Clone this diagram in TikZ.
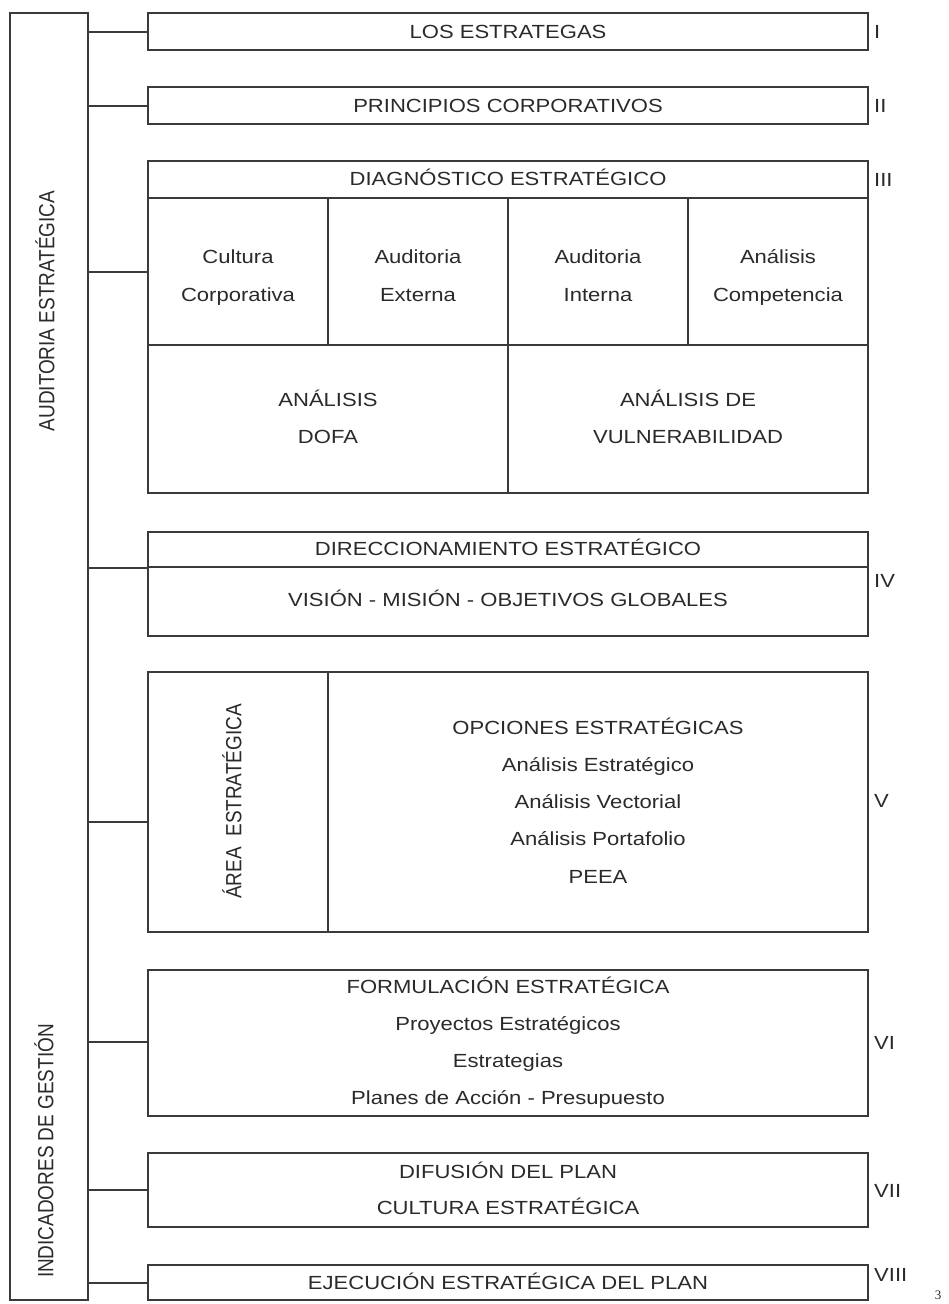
\documentclass[tikz,border=0pt]{standalone}
\usepackage{fontspec}
\setmainfont{Liberation Sans}
% slightly widened sans for horizontal lettering, narrowed copy for the upright side labels
\newfontfamily\widesans[FakeStretch=1.16]{Liberation Sans}
\newfontfamily\narrowsans[FakeStretch=0.862]{Liberation Sans}
\newfontfamily\pageserif{Liberation Serif}
\newcommand\boxfont{\widesans\fontsize{19pt}{37pt}\selectfont}
\newcommand\sidefont{\narrowsans\fontsize{22pt}{26pt}\selectfont}
\definecolor{linec}{RGB}{58,58,60}
\definecolor{textc}{RGB}{42,42,44}
\tikzset{
  frame/.style={draw=linec, line width=2.8pt, inner sep=0pt, outer sep=0pt, anchor=north west},
  lbl/.style={font=\boxfont, text=textc, inner sep=0pt, text height=13.6pt, text depth=0pt},
  vlbl/.style={font=\sidefont, text=textc, inner sep=0pt, rotate=90, text height=15.8pt, text depth=0pt},
  roman/.style={lbl, anchor=west},
  link/.style={draw=linec, line width=2.4pt},
}
\begin{document}
\begin{tikzpicture}[x=1pt, y=-1pt]
\useasboundingbox (0,0) rectangle (949,1304);

% side bar
\node[frame, minimum width=78pt, minimum height=1287pt] (bar) at (10,13) {};
\node[vlbl] (audit) at (46.5,311) {AUDITORIA ESTRATÉGICA};
\node[vlbl] (indic) at (45.5,1151) {INDICADORES DE GESTIÓN};

% I
\node[frame, minimum width=720pt, minimum height=37pt] (b1) at (148,13) {};
\node[lbl] (t1) at (508,32) {LOS ESTRATEGAS};
\node[roman] (r1) at (874,32) {I};

% II
\node[frame, minimum width=720pt, minimum height=37pt] (b2) at (148,87) {};
\node[lbl] (t2) at (508,106) {PRINCIPIOS CORPORATIVOS};
\node[roman] (r2) at (874,106) {II};

% III
\node[frame, minimum width=720pt, minimum height=332pt] (b3) at (148,161) {};
\node[frame, minimum width=720pt, minimum height=37pt] (b3h) at (148,161) {};
\node[frame, minimum width=180pt, minimum height=147pt] (c1) at (148,198) {};
\node[frame, minimum width=180pt, minimum height=147pt] (c2) at (328,198) {};
\node[frame, minimum width=180pt, minimum height=147pt] (c3) at (508,198) {};
\node[frame, minimum width=180pt, minimum height=147pt] (c4) at (688,198) {};
\node[frame, minimum width=360pt, minimum height=148pt] (d1) at (148,345) {};
\node[frame, minimum width=360pt, minimum height=148pt] (d2) at (508,345) {};
\node[lbl] (t3) at (508,179) {DIAGNÓSTICO ESTRATÉGICO};
\node[lbl] (t3a) at (238,257) {Cultura};
\node[lbl] (t3b) at (238,295) {Corporativa};
\node[lbl] (t3c) at (418,257) {Auditoria};
\node[lbl] (t3d) at (418,295) {Externa};
\node[lbl] (t3e) at (598,257) {Auditoria};
\node[lbl] (t3f) at (598,295) {Interna};
\node[lbl] (t3g) at (778,257) {Análisis};
\node[lbl] (t3h) at (778,295) {Competencia};
\node[lbl] (t3i) at (328,400) {ANÁLISIS};
\node[lbl] (t3j) at (328,437) {DOFA};
\node[lbl] (t3k) at (688,400) {ANÁLISIS DE};
\node[lbl] (t3l) at (688,437) {VULNERABILIDAD};
\node[roman] (r3) at (874,180) {III};

% IV
\node[frame, minimum width=720pt, minimum height=104pt] (b4) at (148,532) {};
\node[frame, minimum width=720pt, minimum height=35pt] (b4h) at (148,532) {};
\node[lbl] (t4a) at (508,549) {DIRECCIONAMIENTO ESTRATÉGICO};
\node[lbl] (t4b) at (508,600) {VISIÓN - MISIÓN - OBJETIVOS GLOBALES};
\node[roman] (r4) at (874,581) {IV};

% V
\node[frame, minimum width=720pt, minimum height=260pt] (b5) at (148,672) {};
\node[frame, minimum width=180pt, minimum height=260pt] (b5a) at (148,672) {};
\node[vlbl] (area) at (233.5,801.5) {ÁREA\ \ ESTRATÉGICA};
\node[lbl] (t5a) at (598,728) {OPCIONES ESTRATÉGICAS};
\node[lbl] (t5b) at (598,765) {Análisis Estratégico};
\node[lbl] (t5c) at (598,802) {Análisis Vectorial};
\node[lbl] (t5d) at (598,839) {Análisis Portafolio};
\node[lbl] (t5e) at (598,877) {PEEA};
\node[roman] (r5) at (874,801) {V};

% VI
\node[frame, minimum width=720pt, minimum height=146pt] (b6) at (148,970) {};
\node[lbl] (t6a) at (508,987) {FORMULACIÓN ESTRATÉGICA};
\node[lbl] (t6b) at (508,1024) {Proyectos Estratégicos};
\node[lbl] (t6c) at (508,1061) {Estrategias};
\node[lbl] (t6d) at (508,1098) {Planes de Acción - Presupuesto};
\node[roman] (r6) at (874,1043) {VI};

% VII
\node[frame, minimum width=720pt, minimum height=74pt] (b7) at (148,1153) {};
\node[lbl] (t7a) at (508,1172) {DIFUSIÓN DEL PLAN};
\node[lbl] (t7b) at (508,1208) {CULTURA ESTRATÉGICA};
\node[roman] (r7) at (874,1191) {VII};

% VIII
\node[frame, minimum width=720pt, minimum height=35pt] (b8) at (148,1265) {};
\node[lbl] (t8) at (508,1283) {EJECUCIÓN ESTRATÉGICA DEL PLAN};
\node[roman] (r8) at (874,1275) {VIII};

% page number
\node[font=\pageserif\fontsize{13pt}{15pt}\selectfont, text=textc, inner sep=0pt, anchor=north] (pg) at (938,1291) {3};

% links from the side bar to each stage
\coordinate (k1) at (120,32);
\coordinate (k2) at (120,106);
\coordinate (k3) at (120,272);
\coordinate (k4) at (120,568);
\coordinate (k5) at (120,822);
\coordinate (k6) at (120,1042);
\coordinate (k7) at (120,1190);
\coordinate (k8) at (120,1283);
\draw[link] (k1 -| bar.east) -- (k1 -| b1.west);
\draw[link] (k2 -| bar.east) -- (k2 -| b2.west);
\draw[link] (k3 -| bar.east) -- (k3 -| b3.west);
\draw[link] (k4 -| bar.east) -- (k4 -| b4.west);
\draw[link] (k5 -| bar.east) -- (k5 -| b5.west);
\draw[link] (k6 -| bar.east) -- (k6 -| b6.west);
\draw[link] (k7 -| bar.east) -- (k7 -| b7.west);
\draw[link] (k8 -| bar.east) -- (k8 -| b8.west);
\end{tikzpicture}
\end{document}
